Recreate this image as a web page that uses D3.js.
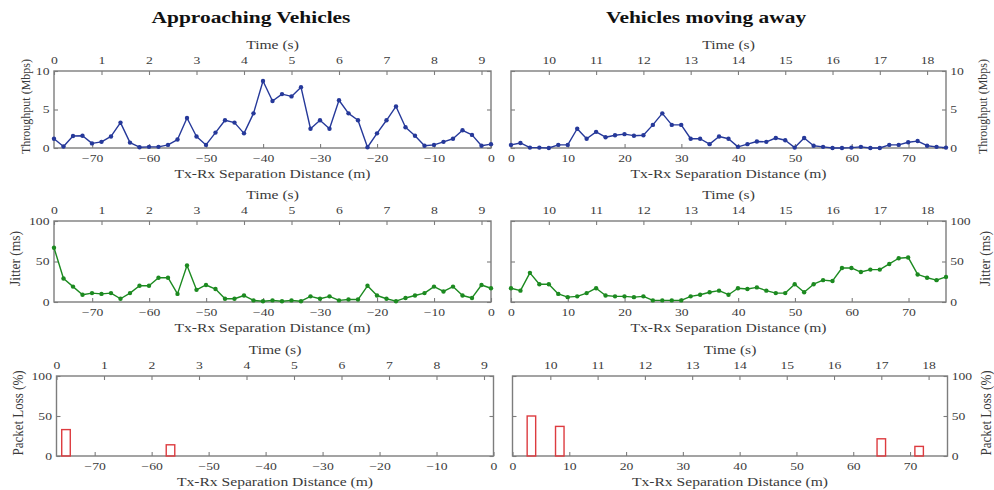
<!DOCTYPE html>
<html>
<head>
<meta charset="utf-8">
<script src="https://cdn.jsdelivr.net/npm/d3@7/dist/d3.min.js"></script>
<style>
  body { margin: 0; background: #fff; }
  svg { display: block; font-family: "Liberation Serif", "Times New Roman", serif; }
</style>
</head>
<body>
<svg id="chart" width="994" height="490"></svg>
<script>
// ---- sample clock (s) ----
const timeApproach = [0, 0.2, 0.4, 0.6, 0.8, 1.0, 1.2, 1.4, 1.6, 1.8, 2.0, 2.2, 2.4, 2.6, 2.8, 3.0, 3.2, 3.4, 3.6, 3.8,
  4.0, 4.2, 4.4, 4.6, 4.8, 5.0, 5.2, 5.4, 5.6, 5.8, 6.0, 6.2, 6.4, 6.6, 6.8, 7.0, 7.2, 7.4, 7.6, 7.8,
  8.0, 8.2, 8.4, 8.6, 8.8, 9.0, 9.2];
const timeAway = [9.2, 9.4, 9.6, 9.8, 10.0, 10.2, 10.4, 10.6, 10.8, 11.0, 11.2, 11.4, 11.6, 11.8, 12.0, 12.2, 12.4, 12.6, 12.8, 13.0,
  13.2, 13.4, 13.6, 13.8, 14.0, 14.2, 14.4, 14.6, 14.8, 15.0, 15.2, 15.4, 15.6, 15.8, 16.0, 16.2, 16.4, 16.6, 16.8, 17.0,
  17.2, 17.4, 17.6, 17.8, 18.0, 18.2, 18.4];

// ---- throughput (Mbps) ----
const throughputApproach = [1.2, 0.2, 1.55, 1.6, 0.6, 0.8, 1.5, 3.3, 0.7, 0.1, 0.15, 0.15, 0.4, 1.1, 3.9, 1.5, 0.4, 2.0, 3.6, 3.3,
  1.9, 4.5, 8.7, 6.1, 7.0, 6.7, 7.9, 2.5, 3.6, 2.5, 6.2, 4.5, 3.6, 0.1, 1.9, 3.6, 5.4, 2.7, 1.6, 0.3,
  0.4, 0.8, 1.2, 2.3, 1.7, 0.3, 0.5];
const throughputAway = [0.4, 0.65, 0.05, 0.05, 0, 0.4, 0.4, 2.5, 1.2, 2.1, 1.4, 1.65, 1.8, 1.6, 1.65, 3.0, 4.5, 3.0, 3.0, 1.2,
  1.2, 0.5, 1.5, 1.2, 0.15, 0.5, 0.85, 0.8, 1.3, 1.0, 0.05, 1.3, 0.3, 0.15, 0, 0, 0.05, 0.15, 0, 0,
  0.4, 0.4, 0.75, 0.9, 0.3, 0.15, 0.05];

// ---- jitter (ms) ----
const jitterApproach = [67, 29, 19, 9, 11, 10, 11, 4, 11, 20, 20, 30, 30, 10, 45, 15, 21, 16, 4, 4,
  8, 2, 1, 2, 1, 2, 1, 7, 4, 7, 2, 3, 3, 20, 8, 4, 1, 5, 8, 11,
  19, 13, 19, 8, 5, 21, 17];
const jitterAway = [17, 14, 36, 22, 22, 10, 6, 7, 11, 17, 8, 7, 7, 6, 7, 2, 2, 2, 2, 7,
  9, 12, 14, 9, 17, 16, 18, 14, 11, 11, 22, 12, 22, 27, 26, 42, 42, 37, 40, 40,
  47, 54, 55, 34, 30, 27, 31];

// ---- packet loss (%) ----
const lossTimeApproach = [0.2, 2.4];
const lossApproach = [33, 14];
const lossTimeAway = [9.6, 10.2, 17.0, 17.8];
const lossAway = [50, 37, 21.5, 12];

// ---- tick labels ----
const timeTicksApproach = [0, 1, 2, 3, 4, 5, 6, 7, 8, 9];
const timeTicksAway = [10, 11, 12, 13, 14, 15, 16, 17, 18];
const distTicksApproach = [-70, -60, -50, -40, -30, -20, -10, 0];
const distTicksAway = [0, 10, 20, 30, 40, 50, 60, 70];
const throughputTicks = [0, 5, 10];
const jitterTicks = [0, 50, 100];
const lossTicks = [0, 50, 100];

const titles = ["Approaching Vehicles", "Vehicles moving away"];

// ---- styling ----
const SX = 1.3;              // glyph widening used for horizontal text
const axisColor = "#7d7d7d";
const textColor = "#3a3a3a";
const tickFont = 10.5;
const labelFont = 12;

const svg = d3.select("#chart");

const columns = [
  { x0: 54, x1: 491, time: timeApproach, timeDomain: [0, 9.2], distDomain: [-76.7, 0],
    timeTicks: timeTicksApproach, distTicks: distTicksApproach, side: "left",
    title: titles[0], titleX: 251,
    throughput: throughputApproach, jitter: jitterApproach, lossT: lossTimeApproach, loss: lossApproach },
  { x0: 511, x1: 946, time: timeAway, timeDomain: [9.2, 18.4], distDomain: [0, 76.6],
    timeTicks: timeTicksAway, distTicks: distTicksAway, side: "right",
    title: titles[1], titleX: 706,
    throughput: throughputAway, jitter: jitterAway, lossT: lossTimeAway, loss: lossAway }
];

const rows = [
  { y0: 71, y1: 148, max: 10, ticks: throughputTicks, label: "Throughput (Mbps)", labelSize: 12,
    labelX: [26, 983], shift: [0, 0], kind: "line", key: "throughput", color: "#26399a" },
  { y0: 221, y1: 302, max: 100, ticks: jitterTicks, label: "Jitter (ms)", labelSize: 13.5,
    labelX: [16, 986], shift: [0, 0], kind: "line", key: "jitter", color: "#1c8a20" },
  { y0: 376, y1: 456, max: 100, ticks: lossTicks, label: "Packet Loss (%)", labelSize: 13,
    labelX: [19, 987], shift: [2.5, 1.5], kind: "bar", key: "loss", color: "#dd3b3f" }
];

function styleTicks(g, widen) {
  g.select(".domain").remove();
  g.selectAll(".tick line").attr("stroke", axisColor).attr("stroke-width", 1.1);
  g.selectAll(".tick text")
    .attr("fill", textColor)
    .attr("font-size", tickFont)
    .attr("font-family", "Liberation Serif, serif");
  if (widen) g.selectAll(".tick text").attr("transform", `scale(${SX},1)`);
}

// column titles
columns.forEach(c => {
  svg.append("text")
    .attr("transform", `translate(${c.titleX},23) scale(1.26,1)`)
    .attr("text-anchor", "middle")
    .attr("font-size", 17)
    .attr("font-weight", "bold")
    .attr("fill", "#111")
    .text(c.title);
});

columns.forEach((c, ci) => {
  rows.forEach(r => {
    const x0 = c.x0 + r.shift[ci], x1 = c.x1 + r.shift[ci];
    const x = d3.scaleLinear().domain(c.timeDomain).range([x0, x1]);
    const xd = d3.scaleLinear().domain(c.distDomain).range([x0, x1]);
    const cx = (x0 + x1) / 2;
    const y = d3.scaleLinear().domain([0, r.max]).range([r.y1, r.y0]);
    const g = svg.append("g");

    // top: time axis
    const gt = g.append("g").attr("transform", `translate(0,${r.y0})`)
      .call(d3.axisTop(x).tickValues(c.timeTicks).tickFormat(d3.format("d"))
        .tickSizeInner(-4).tickSizeOuter(0).tickPadding(7));
    styleTicks(gt, true);
    gt.selectAll(".tick text").attr("dy", 0);

    // bottom: distance axis
    const gb = g.append("g").attr("transform", `translate(0,${r.y1})`)
      .call(d3.axisBottom(xd).tickValues(c.distTicks).tickFormat(d3.format("d"))
        .tickSizeInner(-4).tickSizeOuter(0));
    styleTicks(gb, true);
    gb.selectAll(".tick text").attr("y", 14.5).attr("dy", 0);

    // y axes (ticks both sides, labels on the outer side)
    const gl = g.append("g").attr("transform", `translate(${x0},0)`)
      .call(d3.axisLeft(y).tickValues(r.ticks).tickSizeInner(-4).tickSizeOuter(0).tickPadding(3.5));
    styleTicks(gl, true);
    const gr = g.append("g").attr("transform", `translate(${x1},0)`)
      .call(d3.axisRight(y).tickValues(r.ticks).tickSizeInner(-4).tickSizeOuter(0).tickPadding(3.2));
    styleTicks(gr, true);
    if (c.side === "left") gr.selectAll(".tick text").remove();
    else gl.selectAll(".tick text").remove();

    // frame
    g.append("rect")
      .attr("x", x0).attr("y", r.y0)
      .attr("width", x1 - x0).attr("height", r.y1 - r.y0)
      .attr("fill", "none").attr("stroke", axisColor).attr("stroke-width", 1.4);

    // axis titles
    g.append("text")
      .attr("transform", `translate(${cx},${r.y0 - 22}) scale(${SX},1)`)
      .attr("text-anchor", "middle").attr("font-size", labelFont).attr("fill", textColor)
      .text("Time (s)");
    g.append("text")
      .attr("transform", `translate(${cx},${r.y1 + 29.5}) scale(${SX},1)`)
      .attr("text-anchor", "middle").attr("font-size", labelFont).attr("fill", textColor)
      .text("Tx-Rx Separation Distance (m)");

    const ly = (r.y0 + r.y1) / 2 - 3;
    const lx = r.labelX[ci] + 4;   // baseline sits right of the glyph centre after rotation
    g.append("text")
      .attr("transform", `translate(${lx},${ly}) rotate(-90) scale(1,1.1)`)
      .attr("text-anchor", "middle").attr("font-size", r.labelSize).attr("fill", textColor)
      .text(r.label);

    // data marks
    if (r.kind === "line") {
      const vals = c[r.key];
      const pts = c.time.map((t, i) => [t, vals[i]]);
      g.append("path")
        .datum(pts)
        .attr("fill", "none")
        .attr("stroke", r.color)
        .attr("stroke-width", 1.4)
        .attr("stroke-linejoin", "round")
        .attr("d", d3.line().x(d => x(d[0])).y(d => y(d[1])));
      g.selectAll(null).data(pts).enter().append("circle")
        .attr("cx", d => x(d[0])).attr("cy", d => y(d[1]))
        .attr("r", 2.2).attr("fill", r.color);
    } else {
      const bw = 0.09;
      const bars = c.lossT.map((t, i) => [t, c.loss[i]]);
      g.selectAll(null).data(bars).enter().append("rect")
        .attr("x", d => x(d[0] - bw))
        .attr("width", d => x(d[0] + bw) - x(d[0] - bw))
        .attr("y", d => y(d[1]))
        .attr("height", d => y(0) - y(d[1]))
        .attr("fill", "none")
        .attr("stroke", r.color)
        .attr("stroke-width", 1.4);
    }
  });
});
</script>
</body>
</html>
